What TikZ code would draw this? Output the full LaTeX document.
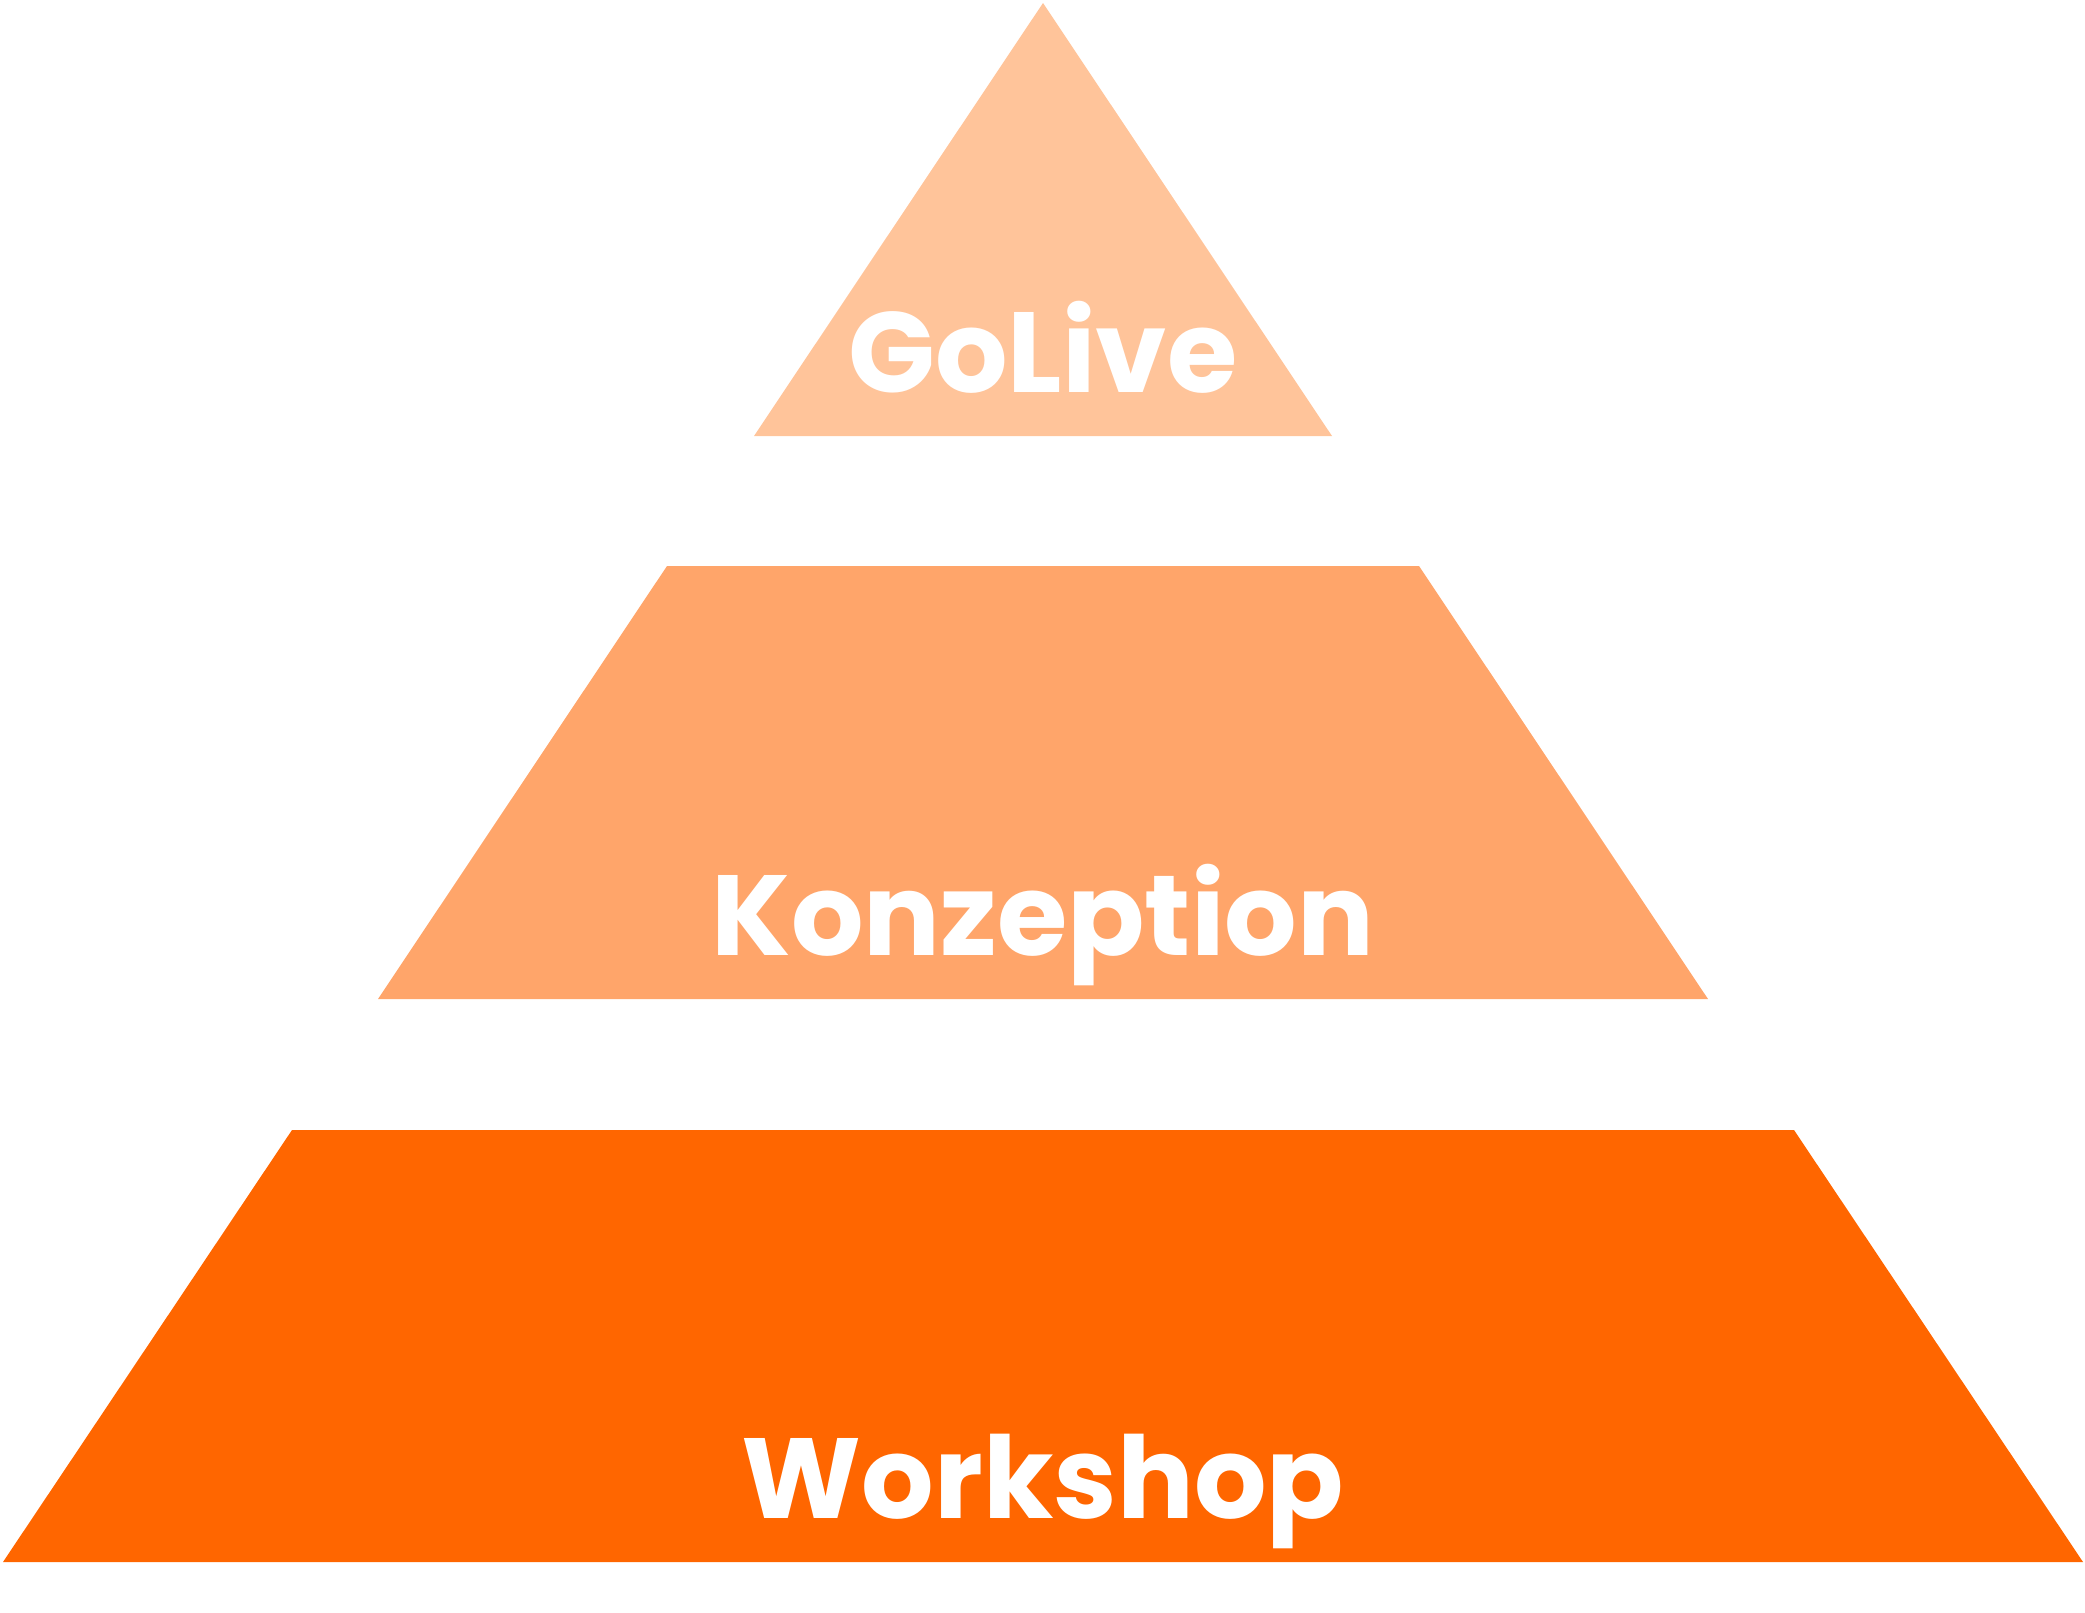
\documentclass[tikz,border=0pt]{standalone}
\usepackage{fontspec}
\setmainfont{Poppins}
\usepackage{xcolor}
\usepackage{tikz}
\usetikzlibrary{positioning}
\definecolor{tierlight}{HTML}{FFC49A}
\definecolor{tiermid}{HTML}{FFA56A}
\definecolor{tierdark}{HTML}{FF6600}
\tikzset{
  tier/.style={fill=#1,draw=none},
  tierlabel/.style={anchor=base,inner sep=0pt,text=white,font=\fontsize{57}{60}\selectfont\bfseries}
}
\begin{document}
\begin{tikzpicture}[x=0.5pt,y=-0.5pt]
  \useasboundingbox (0,0) rectangle (2085,1613);
  \foreach \ytop/\ybot/\wtop/\wbot/\col/\name/\txt in {
    3/436/0/289/tierlight/golive/GoLive,
    566/999/376/665/tiermid/konzeption/Konzeption,
    1130/1562/751/1040/tierdark/workshop/Workshop
  } {
    \fill[tier=\col] (1043-\wtop,\ytop) -- (1043+\wtop,\ytop) -- (1043+\wbot,\ybot) -- (1043-\wbot,\ybot) -- cycle;
    \node[tierlabel] (\name) at (1043,\ybot-44) {\txt};
  }
\end{tikzpicture}
\end{document}
